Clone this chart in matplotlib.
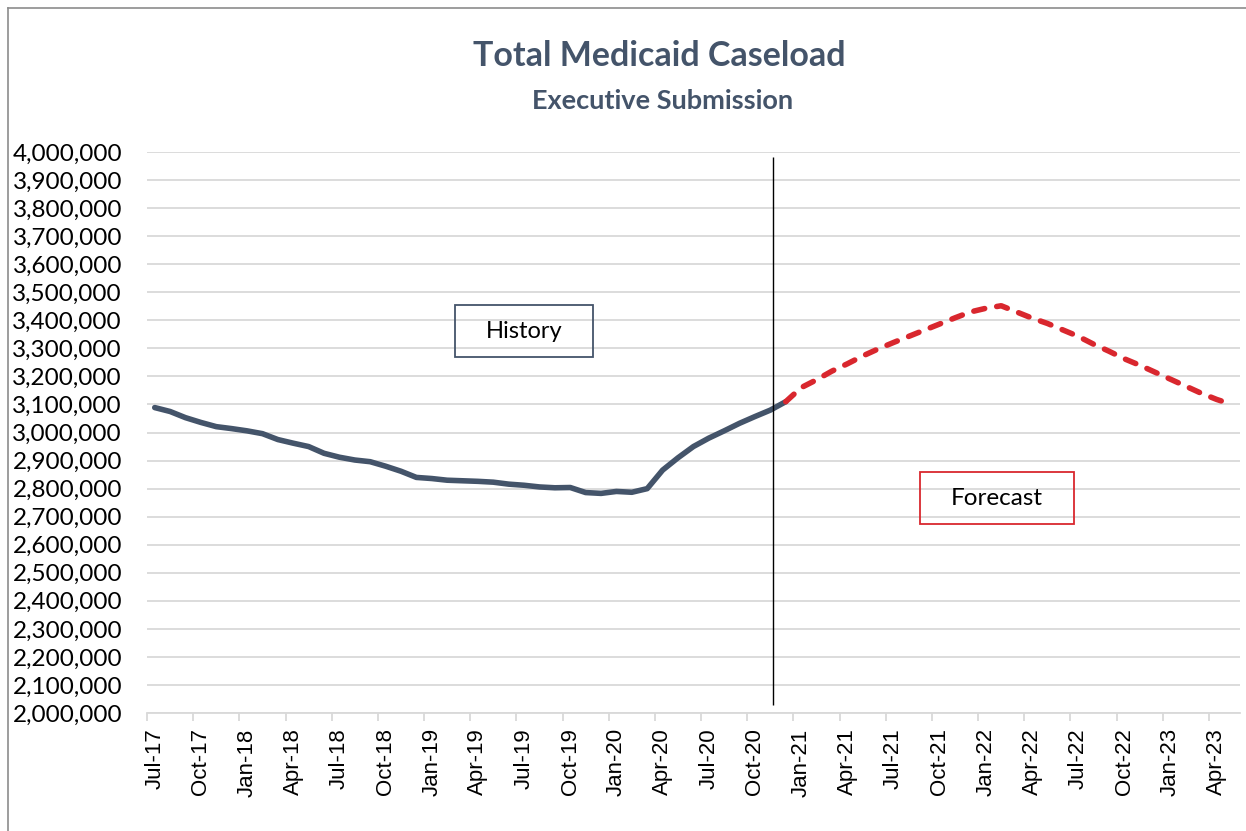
import numpy as np
import matplotlib.pyplot as plt
from matplotlib.lines import Line2D
from matplotlib.patches import Rectangle
from matplotlib.ticker import FuncFormatter

# months Jul-17 .. May-23
months = ['Jul-17', 'Aug-17', 'Sep-17', 'Oct-17', 'Nov-17', 'Dec-17',
          'Jan-18', 'Feb-18', 'Mar-18', 'Apr-18', 'May-18', 'Jun-18',
          'Jul-18', 'Aug-18', 'Sep-18', 'Oct-18', 'Nov-18', 'Dec-18',
          'Jan-19', 'Feb-19', 'Mar-19', 'Apr-19', 'May-19', 'Jun-19',
          'Jul-19', 'Aug-19', 'Sep-19', 'Oct-19', 'Nov-19', 'Dec-19',
          'Jan-20', 'Feb-20', 'Mar-20', 'Apr-20', 'May-20', 'Jun-20',
          'Jul-20', 'Aug-20', 'Sep-20', 'Oct-20', 'Nov-20', 'Dec-20',
          'Jan-21', 'Feb-21', 'Mar-21', 'Apr-21', 'May-21', 'Jun-21',
          'Jul-21', 'Aug-21', 'Sep-21', 'Oct-21', 'Nov-21', 'Dec-21',
          'Jan-22', 'Feb-22', 'Mar-22', 'Apr-22', 'May-22', 'Jun-22',
          'Jul-22', 'Aug-22', 'Sep-22', 'Oct-22', 'Nov-22', 'Dec-22',
          'Jan-23', 'Feb-23', 'Mar-23', 'Apr-23', 'May-23']

# history Jul-17 .. Dec-20
history = [3089000, 3075000, 3053000, 3036000, 3021000, 3014000,
           3006000, 2996000, 2975000, 2962000, 2950000, 2926000,
           2912000, 2902000, 2896000, 2880000, 2862000, 2840000,
           2836000, 2830000, 2828000, 2826000, 2823000, 2816000,
           2812000, 2806000, 2803000, 2804000, 2786000, 2783000,
           2790000, 2787000, 2800000, 2866000, 2910000, 2950000,
           2980000, 3006000, 3033000, 3057000, 3080000, 3110000]

# forecast Dec-20 .. May-23
forecast = [3110000, 3160000, 3188000, 3219000, 3245000, 3273000,
            3298000, 3321000, 3343000, 3365000, 3387000, 3409000,
            3430000, 3443000, 3452000, 3430000, 3408000, 3389000,
            3366000, 3343000, 3315000, 3290000, 3263000, 3240000,
            3215000, 3190000, 3165000, 3140000, 3118000, 3100000]

dark = '#44546A'
red = '#D9272E'

fig = plt.figure(figsize=(12.46, 8.31), dpi=100)
ax = fig.add_axes([0.118, 0.142, 0.877, 0.675])

xh = np.arange(len(history))
xf = np.arange(len(history) - 1, len(history) - 1 + len(forecast))

ax.plot(xh, history, color=dark, lw=4.0, solid_capstyle='round', solid_joinstyle='round', zorder=3)
ax.plot(xf, forecast, color=red, lw=4.0, dashes=(2.0, 2.2), dash_capstyle='round', zorder=3)

# split line between history and forecast
ax.vlines(40.15, 2028000, 3982000, color='black', lw=1, zorder=4)

ax.set_xlim(-0.5, len(months) - 0.5)
ax.set_ylim(2000000, 4000000)
ax.set_yticks(np.arange(2000000, 4000001, 100000))
ax.yaxis.set_major_formatter(FuncFormatter(lambda v, p: '{:,.0f}'.format(v)))
ax.grid(axis='y', color='#D9D9D9', lw=1.3)
ax.set_axisbelow(True)

ax.set_xticks(np.arange(0, len(months), 3))
ax.set_xticklabels(months[::3], rotation=90, family='Liberation Sans', fontsize=16)
ax.set_xticks(np.arange(-0.5, len(months), 3), minor=True)
ax.tick_params(axis='x', which='major', length=0, pad=11)
ax.tick_params(axis='x', which='minor', length=6, color='#D9D9D9', width=1.3)
ax.tick_params(axis='y', length=0, pad=18)
for lab in ax.get_yticklabels():
    lab.set_family('Lato')
    lab.set_fontsize(17.5)

for s in ['top', 'right', 'left']:
    ax.spines[s].set_visible(False)
ax.spines['bottom'].set_color('#D9D9D9')
ax.spines['bottom'].set_linewidth(1.3)

# annotation boxes
ax.add_patch(Rectangle((19.5, 3269000), 9.0, 185000, fill=False, ec=dark, lw=1.3, zorder=5))
ax.text(24.0, 3361500, 'History', ha='center', va='center', fontsize=17, family='Lato', zorder=6)
ax.add_patch(Rectangle((49.7, 2674000), 10.0, 185000, fill=False, ec=red, lw=1.3, zorder=5))
ax.text(54.7, 2766500, 'Forecast', ha='center', va='center', fontsize=17.5, family='Lato', zorder=6)

fig.text(0.529, 0.933, 'Total Medicaid Caseload', ha='center', va='center',
         fontsize=24.5, fontweight='bold', color=dark, family='Lato')
fig.text(0.532, 0.878, 'Executive Submission', ha='center', va='center',
         fontsize=19.5, fontweight='bold', color=dark, family='Lato')

# chart area border (left and top edges visible)
fig.add_artist(Line2D([8 / 1246, 8 / 1246], [0, 1 - 8 / 831], transform=fig.transFigure, color='#8C8C8C', lw=1.2))
fig.add_artist(Line2D([8 / 1246, 1], [1 - 8 / 831, 1 - 8 / 831], transform=fig.transFigure, color='#8C8C8C', lw=1.2))

plt.savefig('out.png', dpi=100, facecolor='white')
